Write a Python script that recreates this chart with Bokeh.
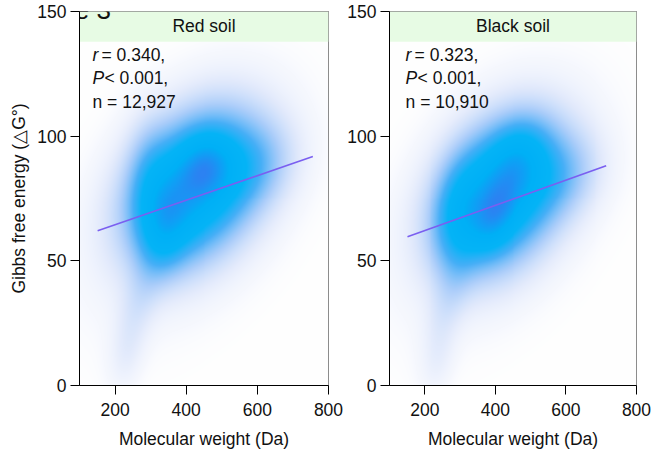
import numpy as np
from bokeh.plotting import figure
from bokeh.layouts import row
from bokeh.models import Range1d, FixedTicker, Label
from bokeh.embed import file_html
from bokeh.resources import INLINE

# ---------------- data ----------------
panel_titles = ["Red soil", "Black soil"]
stat_r = ["0.340", "0.323"]
stat_p = ["0.001", "0.001"]
stat_n = ["12,927", "10,910"]
x_ticks = [200, 400, 600, 800]
y_ticks = [0, 50, 100, 150]
figure_title = "Figure 3"

# fitted regression lines (start/end points)
red_line_x = [151, 756]
red_line_y = [62.1, 91.8]
black_line_x = [151, 714]
black_line_y = [59.7, 88.1]

# density blobs (center x, center y, spread x, spread y, correlation, weight)
red_mx = [455, 425, 345, 300, 270, 235, 590, 400]
red_my = [88, 80, 65, 80, 35, 12, 88, 70]
red_sx = [50, 110, 45, 40, 45, 30, 70, 180]
red_sy = [8, 18, 12, 15, 15, 9, 11, 30]
red_rho = [0.1, 0.3, 0.2, 0.0, 0.6, 0.3, 0.2, 0.5]
red_w = [0.6, 1.5, 0.6, 0.3, 0.12, 0.05, 0.25, 0.06]

black_mx = [395, 415, 465, 300, 270, 240, 585, 400]
black_my = [68, 77, 90, 68, 35, 10, 84, 70]
black_sx = [40, 105, 55, 45, 45, 30, 70, 180]
black_sy = [9, 18, 10, 14, 15, 9, 11, 30]
black_rho = [0.3, 0.3, 0.2, 0.2, 0.6, 0.3, 0.2, 0.5]
black_w = [0.6, 1.5, 0.5, 0.5, 0.12, 0.05, 0.25, 0.06]

FONT = "Liberation Sans"
FS = "17.5px"

cmap_t = [0.0, 0.01, 0.05, 0.15, 0.30, 0.45, 0.70, 0.85, 1.0]
cmap_r = [255, 246, 226, 170, 70, 5, 0, 20, 45]
cmap_g = [255, 248, 234, 205, 175, 180, 176, 155, 130]
cmap_b = [255, 254, 252, 250, 247, 246, 246, 245, 242]


def density_image(mx, my, sx, sy, rho, w, nx=250, ny=375):
    xs = np.linspace(100, 800, nx, endpoint=False) + 700 / nx / 2
    ys = np.linspace(0, 150, ny, endpoint=False) + 150 / ny / 2
    X, Y = np.meshgrid(xs, ys)
    d = np.zeros_like(X)
    for a, b, c, e, r, k in zip(mx, my, sx, sy, rho, w):
        u = (X - a) / c
        v = (Y - b) / e
        z = (u * u - 2 * r * u * v + v * v) / (1 - r * r)
        d += k * np.exp(-z / 2)
    t = d / d.max()
    img = np.empty((ny, nx), dtype=np.uint32)
    view = img.view(dtype=np.uint8).reshape((ny, nx, 4))
    view[:, :, 0] = np.interp(t, cmap_t, cmap_r).astype(np.uint8)
    view[:, :, 1] = np.interp(t, cmap_t, cmap_g).astype(np.uint8)
    view[:, :, 2] = np.interp(t, cmap_t, cmap_b).astype(np.uint8)
    view[:, :, 3] = 255
    return img


def make_panel(i, width, left, right, mx, my, sx, sy, rho, w, lx, ly, text_x, ylabel):
    p = figure(width=width, height=451, x_range=Range1d(100, 800), y_range=Range1d(0, 150),
               output_backend="svg", toolbar_location=None,
               min_border_left=left, min_border_right=right,
               min_border_top=11, min_border_bottom=66)
    p.grid.visible = False
    p.outline_line_color = "#666666"
    p.outline_line_width = 1
    p.background_fill_color = "white"
    p.border_fill_color = "white"

    img = density_image(mx, my, sx, sy, rho, w)
    p.image_rgba(image=[img], x=100, y=0, dw=700, dh=150)

    # header strip
    p.quad(left=100, right=800, bottom=137.9, top=150, fill_color="#e7fbe4", line_color=None)
    p.add_layout(Label(x=450, y=144.2, text=panel_titles[i], text_font=FONT, text_font_size=FS,
                       text_align="center", text_baseline="middle", text_color="#111111"))

    p.line(lx, ly, line_color="#7a5ff0", line_width=1.6)

    # statistics
    rows_y = [128.6, 119.4, 109.8]
    p.add_layout(Label(x=text_x, y=rows_y[0], text="r", text_font=FONT, text_font_size=FS,
                       text_font_style="italic", text_color="#111111"))
    p.add_layout(Label(x=text_x, y=rows_y[0], x_offset=9, text="= " + stat_r[i] + ",",
                       text_font=FONT, text_font_size=FS, text_color="#111111"))
    p.add_layout(Label(x=text_x, y=rows_y[1], text="P", text_font=FONT, text_font_size=FS,
                       text_font_style="italic", text_color="#111111"))
    p.add_layout(Label(x=text_x, y=rows_y[1], x_offset=12, text="< " + stat_p[i] + ",",
                       text_font=FONT, text_font_size=FS, text_color="#111111"))
    p.add_layout(Label(x=text_x, y=rows_y[2], text="n = " + stat_n[i],
                       text_font=FONT, text_font_size=FS, text_color="#111111"))

    for ax in (p.xaxis[0], p.yaxis[0]):
        ax.axis_line_color = "black"
        ax.major_tick_line_color = "black"
        ax.major_tick_out = 9
        ax.major_tick_in = 0
        ax.minor_tick_line_color = None
        ax.major_label_text_font = FONT
        ax.major_label_text_font_size = FS
        ax.major_label_text_color = "#111111"
        ax.axis_label_text_font = FONT
        ax.axis_label_text_font_size = FS
        ax.axis_label_text_font_style = "normal"
        ax.axis_label_text_color = "#111111"
    p.xaxis.ticker = FixedTicker(ticks=x_ticks)
    p.yaxis.ticker = FixedTicker(ticks=y_ticks)
    p.xaxis.major_label_standoff = 8
    p.yaxis.major_label_standoff = 4
    p.xaxis.axis_label = "Molecular weight (Da)"
    p.xaxis.axis_label_standoff = 10
    if ylabel:
        p.yaxis.axis_label = "Gibbs free energy (\u25b3G\u00b0)"
        p.yaxis.axis_label_standoff = 5
    return p


p1 = make_panel(0, 344, 79, 16, red_mx, red_my, red_sx, red_sy, red_rho, red_w,
                red_line_x, red_line_y, 136.5, True)
p2 = make_panel(1, 309, 43, 17, black_mx, black_my, black_sx, black_sy, black_rho, black_w,
                black_line_x, black_line_y, 145.5, False)

p1.add_layout(Label(x=-80, y=150.7, text=figure_title, text_font=FONT, text_font_size="26px",
                    text_color="#111111", text_baseline="alphabetic"))

layout = row(p1, p2)
open("out.html", "w").write(file_html(layout, INLINE))
